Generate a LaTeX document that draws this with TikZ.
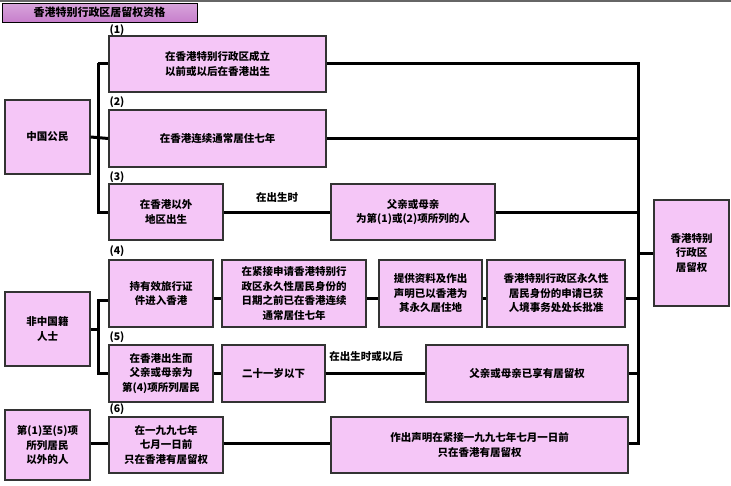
\documentclass[tikz,border=0pt]{standalone}
\usepackage{fontspec}
\setmainfont{Noto Sans CJK SC}
\begin{document}
\begin{tikzpicture}[x=1pt,y=-1pt,
  bx/.style={draw=black!80,line width=1.3pt,fill=boxc,align=center,font=\bfseries\fontsize{10.5}{14.5}\selectfont,inner sep=0pt},
  ln/.style={line width=3pt,black},
  lab/.style={font=\bfseries\fontsize{10.5}{12}\selectfont,inner sep=0pt}]
\definecolor{boxc}{HTML}{F5C6F7}
\definecolor{ttl}{HTML}{C77FCC}
\useasboundingbox (0,0) rectangle (731,485);
\fill[white] (0,0) rectangle (731,485);
\fill[black!60] (0,0) rectangle (731,2);
\node[draw=black,line width=1pt,top color=ttl!70,bottom color=ttl,minimum width=195pt,minimum height=19pt,inner sep=0pt,font=\bfseries\fontsize{11}{12}\selectfont] (t) at (99.5,12.5) {香港特别行政区居留权资格};
\newcommand{\bxat}[6]{\node[bx,minimum width=#4-#2,minimum height=#5-#3] (#1) at ({(#2+#4)/2},{(#3+#5)/2}) {#6};}
\bxat{cn}{5}{100}{90}{174}{中国公民}
\bxat{a1}{109}{36}{326}{92}{在香港特别行政区成立\\以前或以后在香港出生}
\bxat{a2}{109}{110}{326}{167}{在香港连续通常居住七年}
\bxat{a3}{109}{184}{223}{240}{在香港以外\\地区出生}
\bxat{b3}{331}{184}{495}{240}{父亲或母亲\\为第(1)或(2)项所列的人}
\bxat{nc}{5}{292}{90}{366}{非中国籍\\人士}
\bxat{c1}{109}{260}{213}{327}{持有效旅行证\\件进入香港}
\bxat{c2}{222}{260}{366}{327}{在紧接申请香港特别行\\政区永久性居民身份的\\日期之前已在香港连续\\通常居住七年}
\bxat{c3}{379}{260}{482}{327}{提供资料及作出\\声明已以香港为\\其永久居住地}
\bxat{c4}{487}{260}{625}{327}{香港特别行政区永久性\\居民身份的申请已获\\人境事务处处长批准}
\bxat{d1}{109}{345}{213}{402}{在香港出生而\\父亲或母亲为\\第(4)项所列居民}
\bxat{d2}{222}{345}{325}{402}{二十一岁以下}
\bxat{d3}{426}{345}{628}{402}{父亲或母亲已享有居留权}
\bxat{ot}{5}{410}{90}{480}{第(1)至(5)项\\所列居民\\以外的人}
\bxat{e1}{109}{417}{223}{473}{在一九九七年\\七月一日前\\只在香港有居留权}
\bxat{e2}{331}{417}{628}{473}{作出声明在紧接一九九七年七月一日前\\只在香港有居留权}
\bxat{hk}{654}{200}{729}{306}{香港特别\\行政区\\居留权}
\node[lab] at (117,30) {(1)};
\node[lab] at (117,102) {(2)};
\node[lab] at (117,177) {(3)};
\node[lab] at (117,251) {(4)};
\node[lab] at (117,337) {(5)};
\node[lab] at (117,409) {(6)};
\node[lab] (l1) at (277,198) {在出生时};
\node[lab] (l2) at (366,357) {在出生时或以后};
\coordinate (bt) at (638,63);
\coordinate (bb) at (638,443);
\draw[ln] (98,63) -- (a1.west|-0,63);
\draw[ln] (98,63) -- (98,212) -- (a3.west|-0,212);
\draw[ln] (cn.east) -- (a2.west);
\draw[ln] (a1.east|-0,63) -- (bt) -- (bb) -- (e2.east|-0,443);
\draw[ln] (a2.east) -- (638,138.5);
\draw[ln] (a3.east|-0,212) -- (b3.west|-0,212);
\draw[ln] (b3.east|-0,212) -- (638,212);
\draw[ln] (638,253) -- (hk.west|-0,253);
\draw[ln] (nc.east|-0,329) -- (98,329);
\draw[ln] (c1.west|-0,300) -- (98,300) -- (98,373) -- (d1.west|-0,373);
\draw[ln] (c1.east|-0,298) -- (c2.west|-0,298);
\draw[ln] (c2.east|-0,298) -- (c3.west|-0,298);
\draw[ln] (c3.east|-0,298) -- (c4.west|-0,298);
\draw[ln] (c4.east|-0,298) -- (638,298);
\draw[ln] (d1.east|-0,373) -- (d2.west|-0,373);
\draw[ln] (d2.east|-0,373) -- (d3.west|-0,373);
\draw[ln] (d3.east|-0,373) -- (638,373);
\draw[ln] (ot.east|-0,443) -- (e1.west|-0,443);
\draw[ln] (e1.east|-0,443) -- (e2.west|-0,443);
\end{tikzpicture}
\end{document}
